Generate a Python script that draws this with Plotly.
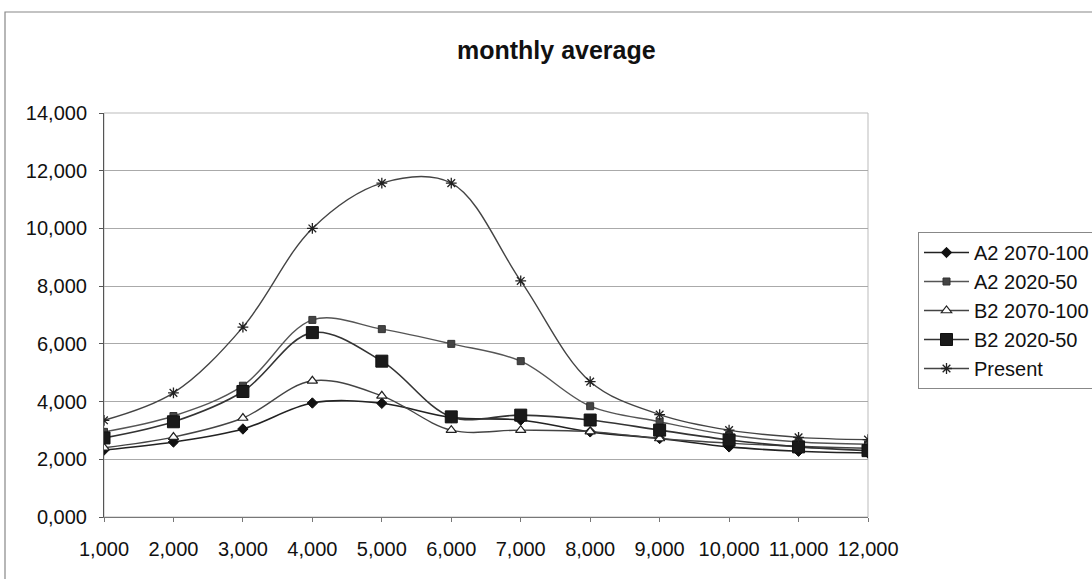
import plotly.graph_objects as go

# month index and monthly averages for each scenario
months = [1, 2, 3, 4, 5, 6, 7, 8, 9, 10, 11, 12]
a2_2070 = [2.32, 2.60, 3.05, 3.95, 3.94, 3.45, 3.36, 2.95, 2.72, 2.43, 2.28, 2.22]
a2_2020 = [2.95, 3.50, 4.55, 6.83, 6.51, 6.00, 5.40, 3.84, 3.30, 2.84, 2.60, 2.52]
b2_2070 = [2.40, 2.77, 3.43, 4.72, 4.20, 3.01, 3.01, 2.96, 2.72, 2.56, 2.45, 2.38]
b2_2020 = [2.74, 3.30, 4.35, 6.39, 5.40, 3.47, 3.53, 3.36, 3.01, 2.67, 2.43, 2.30]
present = [3.35, 4.30, 6.58, 10.00, 11.57, 11.57, 8.18, 4.69, 3.55, 3.01, 2.76, 2.68]

series = [
    ("A2 2070-100", a2_2070, dict(symbol="diamond", size=8, color="#111111",
                                   line=dict(color="#111111", width=1)), "#222222", 1.6),
    ("A2 2020-50", a2_2020, dict(symbol="square", size=7, color="#444444",
                                  line=dict(color="#333333", width=1)), "#555555", 1.4),
    ("B2 2070-100", b2_2070, dict(symbol="triangle-up", size=9, color="white",
                                   line=dict(color="#222222", width=1.2)), "#444444", 1.4),
    ("B2 2020-50", b2_2020, dict(symbol="square", size=12, color="#1a1a1a",
                                  line=dict(color="#111111", width=1)), "#333333", 1.6),
    ("Present", present, dict(symbol="asterisk-open", size=9, color="#222222",
                               line=dict(color="#222222", width=1.3)), "#444444", 1.4),
]

fig = go.Figure()
for name, vals, marker, lc, lw in series:
    fig.add_trace(go.Scatter(
        x=months, y=vals, name=name, mode="lines+markers",
        line=dict(color=lc, width=lw, shape="spline", smoothing=1.0),
        marker=marker,
    ))

L, R, T, B = 104, 868, 113, 517
W, H = 1092, 579
pw, ph = R - L, B - T

def px(x):
    return (x - L) / pw

def py(y):
    return (B - y) / ph

fig.update_layout(
    width=W, height=H,
    margin=dict(l=L, r=W - R, t=T, b=H - B, autoexpand=False),
    paper_bgcolor="white", plot_bgcolor="white",
    separators=",.",
    font=dict(family="Arial, Liberation Sans, sans-serif", size=20, color="#111111"),
    showlegend=True,
    legend=dict(
        x=px(918), y=py(232), xanchor="left", yanchor="top",
        bordercolor="#888888", borderwidth=1, bgcolor="white",
        font=dict(size=20, color="#111111"),
        itemwidth=45, tracegroupgap=0,
    ),
    xaxis=dict(
        range=[1, 12], tickvals=months, tickformat=".3f",
        showgrid=False, zeroline=False,
        showline=True, linecolor="#777777", linewidth=1,
        ticks="outside", ticklen=4, tickcolor="#777777",
        ticklabelstandoff=10,
        tickfont=dict(size=20),
    ),
    yaxis=dict(
        range=[0, 14], dtick=2, tickformat=".3f",
        showgrid=True, gridcolor="#aaaaaa", gridwidth=1,
        zeroline=False,
        showline=True, linecolor="#555555", linewidth=1,
        ticks="outside", ticklen=4, tickcolor="#555555",
        ticklabelstandoff=8,
        tickfont=dict(size=20),
    ),
    annotations=[dict(
        text="<b>monthly average</b>", x=px(556), y=py(50),
        xref="paper", yref="paper", showarrow=False,
        xanchor="center", yanchor="middle",
        font=dict(size=25, color="#111111"),
    )],
    shapes=[
        # plot area frame
        dict(type="rect", xref="paper", yref="paper", x0=0, x1=1, y0=0, y1=1,
             line=dict(color="#bbbbbb", width=1), layer="below"),
        # chart area frame
        dict(type="rect", xref="paper", yref="paper",
             x0=px(5), x1=px(1100), y0=py(590), y1=py(12),
             line=dict(color="#888888", width=1.2), layer="below"),
    ],
)

fig.write_html("out.html")
